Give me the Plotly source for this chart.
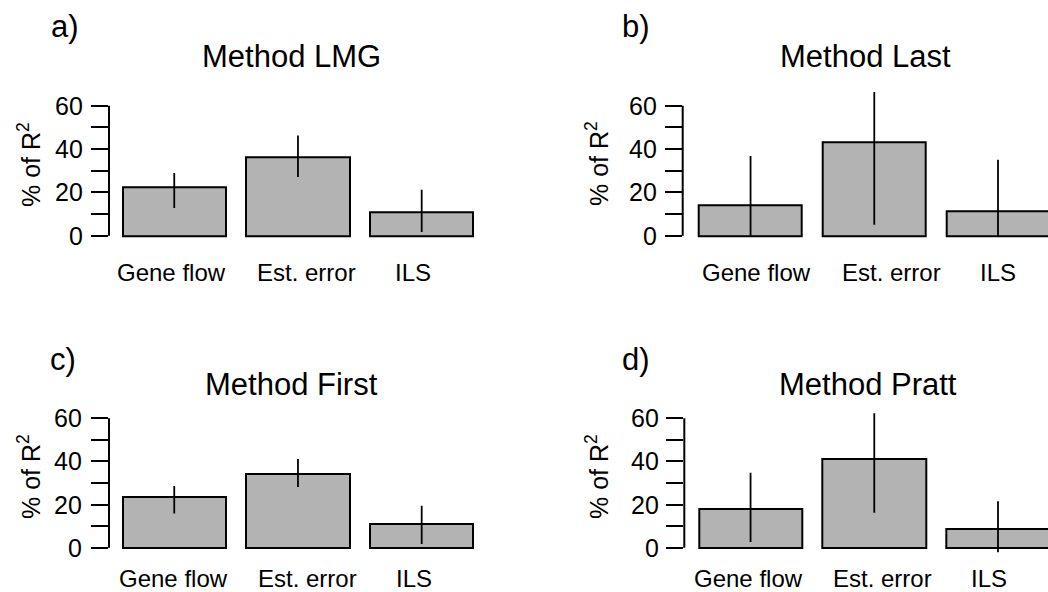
import plotly.graph_objects as go

# ---------------- data ----------------
categories = ["Gene flow", "Est. error", "ILS"]
panel_letters = ["a)", "b)", "c)", "d)"]
methods = ["Method LMG", "Method Last", "Method First", "Method Pratt"]

lmg_values = [22.3, 36.1, 10.8]
lmg_lower = [12.8, 27.1, 1.7]
lmg_upper = [28.9, 46.3, 21.2]

last_values = [14.3, 43.1, 11.2]
last_lower = [0.0, 5.1, 0.0]
last_upper = [36.8, 66.3, 35.1]

first_values = [23.4, 34.0, 11.0]
first_lower = [15.9, 28.1, 1.7]
first_upper = [28.6, 41.1, 19.5]

pratt_values = [17.9, 41.3, 8.7]
pratt_lower = [2.6, 16.2, -2.1]
pratt_upper = [34.8, 62.3, 21.5]

y_major_ticks = [0, 20, 40, 60]
y_major_labels = ["0", "20", "40", "60"]
y_minor_ticks = [10, 30, 50]

# ---------------- layout helpers ----------------
W, H = 1048, 592
FONT = "Liberation Sans, Arial, Helvetica, sans-serif"
BAR_POS = [0.7, 1.9, 3.1]

series = [
    (lmg_values, lmg_lower, lmg_upper),
    (last_values, last_lower, last_upper),
    (first_values, first_lower, first_upper),
    (pratt_values, pratt_lower, pratt_upper),
]

# per panel pixel geometry: axis x, bar1 left, px/unit x, right edge, zero y, sixty y
geom = [
    dict(A=109.0, L=122.7, k=103.1, E=490.0, Z=235.7, S=105.7),
    dict(A=682.7, L=699.0, k=103.1, E=1048.0, Z=235.7, S=105.7),
    dict(A=109.0, L=122.7, k=103.1, E=490.0, Z=547.7, S=418.3),
    dict(A=684.3, L=699.0, k=103.1, E=1048.0, Z=547.7, S=418.3),
]
ticklabel_right = [85.0, 658.5, 84.0, 661.0]
letter_pos = [(65, 26), (636, 26), (63, 359), (636, 359)]
title_pos = [(291, 56), (865, 56), (291, 384), (868, 384)]
ylab_pos = [(29, 165), (597, 164), (29, 477), (597, 477)]
cat_y = [272.7, 272.7, 578.0, 578.0]
cat_x = [
    [0.675, 1.981, 3.016],
    [0.762, 2.070, 3.103],
    [0.688, 1.997, 3.023],
    [0.676, 1.981, 3.011],
]

YLO, YHI = -5, 69

fig = go.Figure()
annotations = []
shapes = []

for i, (vals, lo, hi) in enumerate(series):
    g = geom[i]
    n = "" if i == 0 else str(i + 1)
    xa, ya = "x" + n, "y" + n
    fig.add_trace(go.Bar(
        x=BAR_POS, y=vals, width=1.0,
        marker=dict(color="#B3B3B3", line=dict(color="black", width=2)),
        error_y=dict(type="data", symmetric=False,
                     array=[h - v for h, v in zip(hi, vals)],
                     arrayminus=[v - l for v, l in zip(vals, lo)],
                     width=0, thickness=1.8, color="black"),
        xaxis=xa, yaxis=ya, showlegend=False, hoverinfo="skip",
    ))
    x0 = 0.2 - (g["L"] - g["A"]) / g["k"]
    x1 = 0.2 + (g["E"] - g["L"]) / g["k"]
    s = (g["Z"] - g["S"]) / 60.0
    ybot = g["Z"] + (0 - YLO) * s
    ytop = g["Z"] - YHI * s
    fig.update_layout({
        "xaxis" + n: dict(domain=[g["A"] / W, g["E"] / W], range=[x0, x1],
                          anchor=ya, showgrid=False, zeroline=False,
                          showline=False, showticklabels=False, ticks=""),
        "yaxis" + n: dict(domain=[1 - ybot / H, 1 - ytop / H], range=[YLO, YHI],
                          anchor=xa, showgrid=False, zeroline=False,
                          showline=False, ticks="outside", ticklen=17,
                          tickwidth=2, tickcolor="black",
                          tickmode="array", tickvals=y_major_ticks,
                          showticklabels=False,
                          minor=dict(tickmode="array", tickvals=y_minor_ticks,
                                     ticks="outside", ticklen=17, tickwidth=2,
                                     tickcolor="black", showgrid=False)),
    })
    shapes.append(dict(type="line", xref=xa + " domain", yref=ya,
                       x0=0, x1=0, y0=0, y1=60,
                       line=dict(color="black", width=2)))
    # y tick labels
    for tv, tl in zip(y_major_ticks, y_major_labels):
        annotations.append(dict(text=tl, xref="paper", yref=ya,
                                x=ticklabel_right[i] / W, y=tv, showarrow=False,
                                xanchor="right", yanchor="middle",
                                font=dict(family=FONT, size=25, color="black")))
    # texts
    lx, ly = letter_pos[i]
    annotations.append(dict(text=panel_letters[i], xref="paper", yref="paper",
                            x=lx / W, y=1 - ly / H, showarrow=False,
                            xanchor="center", yanchor="middle",
                            font=dict(family=FONT, size=31, color="black")))
    tx, ty = title_pos[i]
    annotations.append(dict(text=methods[i], xref="paper", yref="paper",
                            x=tx / W, y=1 - ty / H, showarrow=False,
                            xanchor="center", yanchor="middle",
                            font=dict(family=FONT, size=31, color="black")))
    yx, yy = ylab_pos[i]
    annotations.append(dict(text="% of R<sup>2</sup>", xref="paper", yref="paper",
                            x=yx / W, y=1 - yy / H, showarrow=False, textangle=-90,
                            xanchor="center", yanchor="middle",
                            font=dict(family=FONT, size=25, color="black")))
    for c, cx in zip(categories, cat_x[i]):
        annotations.append(dict(text=c, xref=xa, yref="paper",
                                x=cx, y=1 - cat_y[i] / H, showarrow=False,
                                xanchor="center", yanchor="middle",
                                font=dict(family=FONT, size=24, color="black")))

fig.update_layout(
    width=W, height=H,
    margin=dict(l=0, r=0, t=0, b=0),
    paper_bgcolor="white", plot_bgcolor="rgba(0,0,0,0)",
    annotations=annotations, shapes=shapes,
    bargap=0,
)

fig.write_html("out.html")
